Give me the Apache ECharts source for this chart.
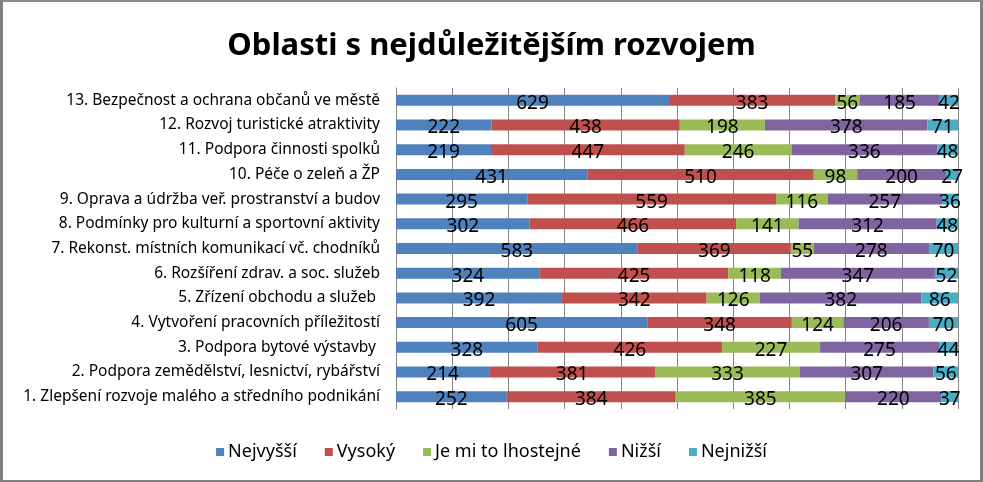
<!DOCTYPE html>
<html>
<head>
<meta charset="utf-8">
<script src="https://cdn.jsdelivr.net/npm/echarts@6/dist/echarts.min.js"></script>
<style>
html,body{margin:0;padding:0;background:#fff;}
#c{width:983px;height:482px;box-sizing:border-box;border-left:3px solid #7f7f7f;border-top:2px solid #8c8c8c;border-right:3px solid #7f7f7f;border-bottom:2px solid #7f7f7f;}
</style>
</head>
<body>
<div id="c"></div>
<script>
const categories = [
  "1. Zlepšení rozvoje malého a středního podnikání",
  "2. Podpora zemědělství, lesnictví, rybářství",
  "3. Podpora bytové výstavby ",
  "4. Vytvoření pracovních příležitostí",
  "5. Zřízení obchodu a služeb ",
  "6. Rozšíření zdrav. a soc. služeb",
  "7. Rekonst. místních komunikací vč. chodníků",
  "8. Podmínky pro kulturní a sportovní aktivity",
  "9. Oprava a údržba veř. prostranství a budov",
  "10. Péče o zeleň a ŽP",
  "11. Podpora činnosti spolků",
  "12. Rozvoj turistické atraktivity",
  "13. Bezpečnost a ochrana občanů ve městě"
];
const seriesNames = ["Nejvyšší", "Vysoký", "Je mi to lhostejné", "Nižší", "Nejnižší"];
const nejvyssi = [252, 214, 328, 605, 392, 324, 583, 302, 295, 431, 219, 222, 629];
const vysoky   = [384, 381, 426, 348, 342, 425, 369, 466, 559, 510, 447, 438, 383];
const lhostejne= [385, 333, 227, 124, 126, 118, 55, 141, 116, 98, 246, 198, 56];
const nizsi    = [220, 307, 275, 206, 382, 347, 278, 312, 257, 200, 336, 378, 185];
const nejnizsi = [37, 56, 44, 70, 86, 52, 70, 48, 36, 27, 48, 71, 42];

const colors = ["#4F81BD", "#C0504D", "#9BBB59", "#8064A2", "#4BACC6"];
const raw = [nejvyssi, vysoky, lhostejne, nizsi, nejnizsi];
const totals = categories.map((_, i) => raw.reduce((s, arr) => s + arr[i], 0));

const chart = echarts.init(document.getElementById('c'));
const font = "'Noto Sans', sans-serif";
chart.setOption({
  animation: false,
  textStyle: {fontFamily: font},
  title: {
    text: "Oblasti s nejdůležitějším rozvojem",
    left: 'center', top: 24,
    textStyle: {fontFamily: font, fontSize: 31, fontWeight: 'bold', color: '#000'}
  },
  legend: {
    data: seriesNames,
    bottom: 14,
    left: 'center',
    itemWidth: 8, itemHeight: 8, itemGap: 28,
    icon: 'rect',
    textStyle: {fontFamily: font, fontSize: 18, color: '#000', padding: [0, 0, 0, -1]}
  },
  grid: {left: 393, right: 22, top: 86, bottom: 71, containLabel: false},
  xAxis: {
    type: 'value', min: 0, max: 100, interval: 10,
    axisLabel: {show: false},
    axisLine: {show: false}, axisTick: {show: false},
    splitLine: {show: true, lineStyle: {color: '#868686', width: 1}}
  },
  yAxis: {
    type: 'category', data: categories,
    axisLine: {show: true, lineStyle: {color: '#868686'}},
    axisTick: {show: false},
    axisLabel: {fontFamily: font, fontSize: 15.5, color: '#000', margin: 16}
  },
  series: raw.map((arr, si) => ({
    name: seriesNames[si],
    type: 'bar',
    stack: 'total',
    barWidth: 11,
    itemStyle: {color: colors[si]},
    label: {
      show: true, position: 'inside', color: '#000',
      fontFamily: font, fontSize: 19, offset: [0, 3],
      formatter: p => arr[p.dataIndex]
    },
    data: arr.map((v, i) => v / totals[i] * 100)
  }))
});
</script>
</body>
</html>
